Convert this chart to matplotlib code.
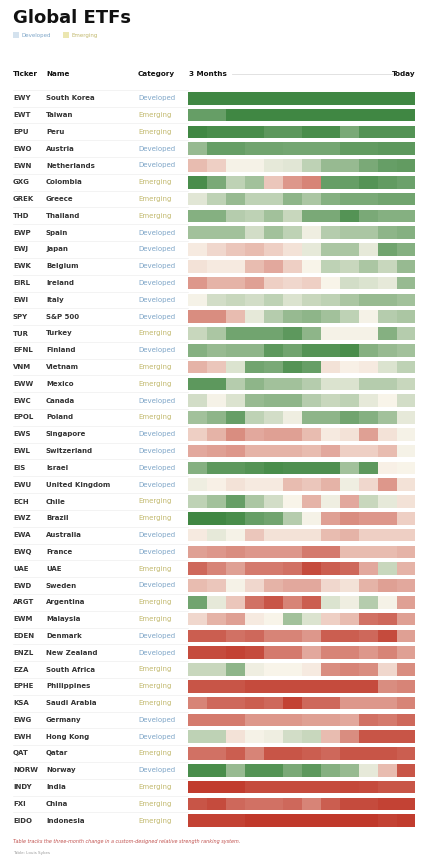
import matplotlib
matplotlib.use("Agg")
import matplotlib.pyplot as plt
import numpy as np
from matplotlib.colors import LinearSegmentedColormap, Normalize

tickers = ["EWY","EWT","EPU","EWO","EWN","GXG","GREK","THD","EWP","EWJ","EWK","EIRL","EWI","SPY",
           "TUR","EFNL","VNM","EWW","EWC","EPOL","EWS","EWL","EIS","EWU","ECH","EWZ","EWA","EWQ",
           "UAE","EWD","ARGT","EWM","EDEN","ENZL","EZA","EPHE","KSA","EWG","EWH","QAT","NORW",
           "INDY","FXI","EIDO"]
names = ["South Korea","Taiwan","Peru","Austria","Netherlands","Colombia","Greece","Thailand","Spain",
         "Japan","Belgium","Ireland","Italy","S&P 500","Turkey","Finland","Vietnam","Mexico","Canada",
         "Poland","Singapore","Switzerland","Israel","United Kingdom","Chile","Brazil","Australia",
         "France","UAE","Sweden","Argentina","Malaysia","Denmark","New Zealand","South Africa",
         "Philippines","Saudi Arabia","Germany","Hong Kong","Qatar","Norway","India","China","Indonesia"]
categories = ["Developed","Emerging","Emerging","Developed","Developed","Emerging","Emerging","Emerging",
              "Developed","Developed","Developed","Developed","Developed","Developed","Emerging",
              "Developed","Emerging","Emerging","Developed","Emerging","Developed","Developed",
              "Developed","Developed","Emerging","Emerging","Developed","Developed","Emerging",
              "Developed","Emerging","Emerging","Developed","Developed","Emerging","Emerging",
              "Emerging","Developed","Developed","Emerging","Developed","Emerging","Emerging","Emerging"]

# relative-strength change, 12 steps from 3 months ago to today (-1 weak .. +1 strong)
scores = [
    [0.95,0.95,0.95,0.95,0.95,0.95,0.95,0.95,0.95,0.95,0.95,0.95],
    [0.75,0.75,0.95,0.95,0.95,0.95,0.95,0.95,0.95,0.95,0.95,0.95],
    [0.95,0.9,0.9,0.9,0.8,0.8,0.9,0.9,0.65,0.85,0.85,0.85],
    [0.5,0.75,0.75,0.7,0.7,0.68,0.68,0.68,0.78,0.78,0.8,0.8],
    [-0.3,-0.2,0.02,0.02,0.1,0.12,0.3,0.5,0.5,0.65,0.75,0.78],
    [0.9,0.65,0.3,0.45,-0.25,-0.5,-0.6,0.75,0.75,0.85,0.78,0.72],
    [0.12,0.3,0.5,0.3,0.3,0.55,0.4,0.6,0.65,0.65,0.7,0.7],
    [0.6,0.6,0.35,0.3,0.45,0.25,0.65,0.65,0.85,0.65,0.6,0.6],
    [0.45,0.45,0.45,0.2,0.45,0.3,0.05,0.35,0.4,0.4,0.55,0.6],
    [-0.05,-0.15,-0.25,-0.3,-0.2,-0.1,0.1,0.4,0.4,0.1,0.7,0.6],
    [-0.1,-0.05,-0.05,-0.3,-0.4,-0.2,0.0,0.3,0.25,0.4,0.25,0.5],
    [-0.5,-0.35,-0.35,-0.45,-0.2,-0.15,-0.2,0.0,0.2,0.15,0.1,0.5],
    [0.02,0.2,0.25,0.2,0.3,0.15,0.25,0.3,0.4,0.5,0.5,0.45],
    [-0.55,-0.55,-0.3,0.1,0.35,0.5,0.55,0.45,0.3,0.02,0.35,0.4],
    [0.25,0.4,0.7,0.7,0.7,0.8,0.55,0.02,0.02,0.02,0.6,0.35],
    [0.6,0.5,0.55,0.55,0.8,0.7,0.85,0.85,0.9,0.6,0.5,0.45],
    [-0.35,-0.25,0.15,0.7,0.65,0.85,0.75,-0.1,-0.02,-0.05,0.15,0.3],
    [0.8,0.8,0.35,0.55,0.45,0.45,0.35,0.15,0.15,0.35,0.35,0.25],
    [0.2,0.02,0.15,0.5,0.55,0.55,0.35,0.25,0.3,0.1,0.0,0.2],
    [0.45,0.55,0.75,0.3,0.2,0.05,0.55,0.55,0.7,0.6,0.45,0.1],
    [-0.2,-0.35,-0.55,-0.4,-0.45,-0.45,-0.3,-0.05,-0.1,-0.45,-0.1,0.02],
    [-0.4,-0.45,-0.5,-0.35,-0.35,-0.35,-0.3,-0.4,-0.2,-0.2,-0.3,0.02],
    [0.6,0.8,0.8,0.85,0.9,0.88,0.88,0.88,0.45,0.8,-0.02,0.0],
    [0.05,-0.02,-0.1,-0.05,-0.05,-0.3,-0.25,-0.35,0.05,-0.15,-0.5,-0.1],
    [0.3,0.45,0.75,0.4,0.2,0.0,-0.35,0.05,-0.4,0.25,0.1,-0.1],
    [0.95,0.95,0.9,0.75,0.7,0.35,0.02,-0.45,-0.55,-0.5,-0.5,-0.2],
    [-0.05,0.1,0.02,-0.25,-0.1,-0.1,-0.1,-0.3,-0.35,-0.2,-0.2,-0.2],
    [-0.45,-0.5,-0.55,-0.5,-0.5,-0.5,-0.65,-0.65,-0.3,-0.3,-0.3,-0.35],
    [-0.75,-0.6,-0.45,-0.65,-0.65,-0.7,-0.9,-0.8,-0.75,-0.4,0.25,-0.35],
    [-0.3,-0.25,0.02,-0.15,-0.35,-0.4,-0.4,-0.15,-0.1,-0.35,-0.45,-0.4],
    [0.7,0.1,-0.25,-0.7,-0.85,-0.6,-0.8,0.15,0.05,0.35,0.02,-0.45],
    [-0.15,-0.35,-0.45,-0.05,0.0,0.45,0.15,-0.2,-0.3,-0.7,-0.75,-0.45],
    [-0.8,-0.8,-0.7,-0.75,-0.6,-0.6,-0.5,-0.8,-0.8,-0.75,-0.9,-0.45],
    [-0.9,-0.9,-0.95,-0.9,-0.65,-0.65,-0.4,-0.6,-0.6,-0.5,-0.6,-0.45],
    [0.25,0.25,0.55,0.05,0.0,0.0,-0.05,-0.55,-0.6,-0.55,-0.15,-0.55],
    [-0.85,-0.85,-0.85,-0.9,-0.9,-0.9,-0.9,-0.9,-0.9,-0.9,-0.55,-0.6],
    [-0.6,-0.75,-0.75,-0.8,-0.75,-0.95,-0.75,-0.75,-0.5,-0.5,-0.5,-0.6],
    [-0.65,-0.65,-0.65,-0.5,-0.5,-0.5,-0.45,-0.45,-0.4,-0.7,-0.65,-0.75],
    [0.3,0.3,-0.1,0.02,0.05,0.2,0.25,-0.3,-0.55,-0.85,-0.85,-0.85],
    [-0.7,-0.7,-0.8,-0.6,-0.85,-0.85,-0.8,-0.75,-0.85,-0.85,-0.85,-0.8],
    [0.9,0.9,0.5,0.85,0.85,0.65,0.8,0.6,0.5,0.1,-0.3,-0.85],
    [-0.98,-0.98,-0.98,-0.9,-0.9,-0.9,-0.9,-0.9,-0.92,-0.9,-0.85,-0.85],
    [-0.85,-0.9,-0.75,-0.7,-0.7,-0.75,-0.6,-0.8,-0.9,-0.9,-0.95,-0.95],
    [-0.95,-0.95,-0.95,-1,-1,-1,-1,-1,-1,-1,-0.95,-0.98],
]

cat_colors = {"Developed": "#7fa6c8", "Emerging": "#c2b96e"}
cat_swatch = {"Developed": "#d4e2ee", "Emerging": "#ebe6b0"}

cmap = LinearSegmentedColormap.from_list("rs", ["#c0392b", "#f9f4ea", "#37823b"])
norm = Normalize(-1, 1)

W, H = 428, 860
fig = plt.figure(figsize=(W/100, H/100), dpi=100)
fig.patch.set_facecolor("white")

n = len(tickers)
top_px = 98.3 - 8.4
bot_px = 820.7 + 8.4
y0 = 1 - bot_px / H
hgt = (bot_px - top_px) / H

# overlay axes in pixel units for text
ax = fig.add_axes([0, 0, 1, 1])
ax.set_xlim(0, W)
ax.set_ylim(H, 0)
ax.axis("off")

# table axes (rows in data units)
tax = fig.add_axes([0, y0, 1, hgt])
tax.set_xlim(0, W)
tax.set_ylim(n - 0.5, -0.5)
tax.axis("off")

hx0, hx1 = 188.3, 415.5
hax = fig.add_axes([hx0 / W, y0, (hx1 - hx0) / W, hgt])
hax.set_xlim(0, 12)
hax.set_ylim(n - 0.5, -0.5)
hax.axis("off")

for i, row in enumerate(scores):
    hax.barh(np.full(len(row), i), np.ones(len(row)), left=np.arange(len(row)),
             height=0.76, color=cmap(norm(np.array(row))), linewidth=0)

fs = 5
for i in range(n):
    tax.text(13, i, tickers[i], fontsize=fs, fontweight="bold", color="#333333", va="center")
    tax.text(46, i, names[i], fontsize=fs, fontweight="bold", color="#333333", va="center")
    tax.text(138, i, categories[i], fontsize=fs, color=cat_colors[categories[i]], va="center")
for i in range(n + 1):
    tax.plot([13, 188], [i - 0.5, i - 0.5], color="#efefef", lw=0.5, zorder=0)

# title & legend
ax.text(13, 18, "Global ETFs", fontsize=13, fontweight="bold", color="#111111", va="center")
ax.add_patch(plt.Rectangle((13, 32), 6, 6, color=cat_swatch["Developed"], lw=0))
ax.text(22, 35, "Developed", fontsize=4, color=cat_colors["Developed"], va="center")
ax.add_patch(plt.Rectangle((63, 32), 6, 6, color=cat_swatch["Emerging"], lw=0))
ax.text(72, 35, "Emerging", fontsize=4, color=cat_colors["Emerging"], va="center")

# header
hy = 74
for x, t in [(13, "Ticker"), (46, "Name"), (138, "Category"), (189, "3 Months")]:
    ax.text(x, hy, t, fontsize=5.2, fontweight="bold", color="#111111", va="center")
ax.text(416, hy, "Today", fontsize=5.2, fontweight="bold", color="#111111", va="center", ha="right")
ax.plot([232, 392], [hy, hy], color="#dddddd", lw=0.6)

# footer
ax.text(13, 842, "Table tracks the three-month change in a custom-designed relative strength ranking system.",
        fontsize=3.5, style="italic", color="#c0504d", va="center")
ax.text(13, 853, "Table: Louis Sykes", fontsize=3, color="#999999", va="center")

fig.savefig("out.png", dpi=100, facecolor="white")
